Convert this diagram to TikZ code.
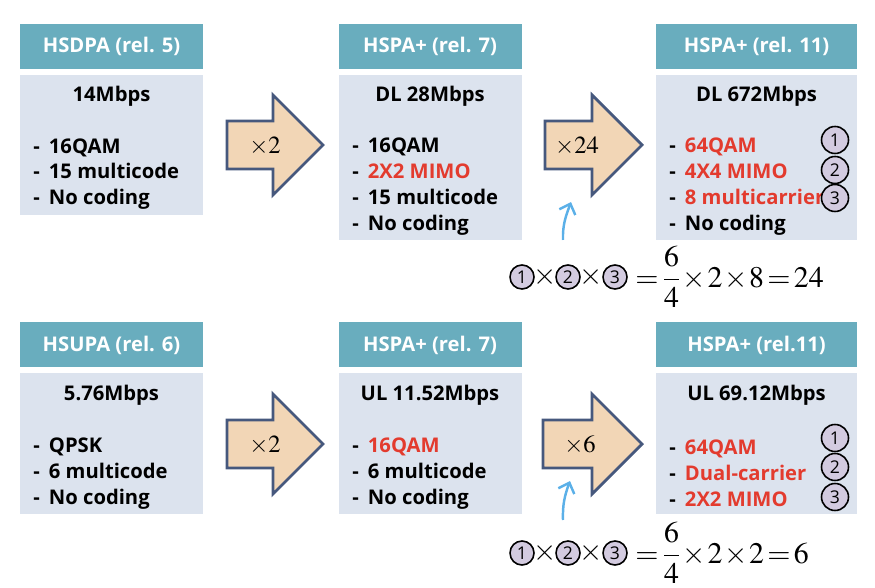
\documentclass[tikz,border=0pt]{standalone}
\usepackage{amsmath}
\usepackage{mathptmx}
\usepackage[no-math]{fontspec}
\setmainfont{Open Sans}
\newfontfamily\numfont{Open Sans}
\usepackage{tikz}
\usetikzlibrary{arrows.meta, positioning}
\definecolor{headteal}{HTML}{69ADBE}
\definecolor{bodygray}{HTML}{DCE3EE}
\definecolor{arrowfill}{HTML}{F2D6B6}
\definecolor{arrowedge}{HTML}{46587D}
\definecolor{hotred}{HTML}{E33B2E}
\definecolor{hintblue}{HTML}{5BB0E8}
\definecolor{circfill}{HTML}{D3CBE0}
\newcommand\tightmath{\thickmuskip=2mu\relax\medmuskip=1mu\relax}
\newcommand\listdash{-\hspace{0.45em}}

\begin{document}
\begin{tikzpicture}[
    every node/.style={font=\bfseries\fontsize{11.5}{14.7}\selectfont},
    headbox/.style={rectangle, fill=headteal, text=white, minimum width=3.66cm, minimum height=0.9cm, inner sep=0pt},
    bodybox/.style={rectangle, fill=bodygray, minimum width=3.66cm, inner sep=0pt},
    items/.style={align=left, anchor=west, inner sep=0pt},
    bigarrow/.style={draw=arrowedge, fill=arrowfill, line width=1.6pt, line join=miter},
    gain/.style={font=\fontsize{14}{16}\selectfont, inner sep=0pt},
    numcirc/.style={circle, draw=black, fill=circfill, line width=0.9pt, minimum size=0.54cm, inner sep=0pt, font=\numfont\fontsize{10}{10}\selectfont},
    hint/.style={line width=1.4pt, draw=hintblue, -{Straight Barb[length=1.8mm, width=3.4mm]}},
    formula/.style={font=\fontsize{17}{20}\selectfont\tightmath, inner sep=0pt}
]
\useasboundingbox (0,0) rectangle (17.5,-11.76);

% Downlink
\node[headbox] (hsdpa) at (2.23,-0.93) {HSDPA (rel. 5)};
\node[bodybox, minimum height=2.8cm] (dlbody1) at (2.23,-2.9) {};
\node (dlrate1) at (2.23,-1.93) {14Mbps};
\node[items] (dlitems1) at (0.66,-3.48) {\listdash 16QAM\\\listdash 15 multicode\\\listdash No coding};

\node[headbox] (hspadl7) at (8.6,-0.93) {HSPA+ (rel. 7)};
\node[bodybox, minimum height=3.3cm] (dlbody2) at (8.6,-3.15) {};
\node (dlrate2) at (8.6,-1.93) {DL 28Mbps};
\node[items] (dlitems2) at (7.04,-3.73) {\listdash 16QAM\\\listdash \textcolor{hotred}{2X2 MIMO}\\\listdash 15 multicode\\\listdash No coding};

\node[headbox, minimum width=4.02cm] (hspadl11) at (15.13,-0.93) {HSPA+ (rel. 11)};
\node[bodybox, minimum width=4.02cm, minimum height=3.3cm] (dlbody3) at (15.13,-3.15) {};
\node (dlrate3) at (15.13,-1.93) {DL 672Mbps};
\node[items] (dlitems3) at (13.38,-3.73) {\listdash \textcolor{hotred}{64QAM}\\\listdash \textcolor{hotred}{4X4 MIMO}\\\listdash \textcolor{hotred}{8 multicarrier}\\\listdash No coding};
\node[numcirc] (dlc1) at (16.7,-2.8) {1};
\node[numcirc] (dlc2) at (16.7,-3.4) {2};
\node[numcirc] (dlc3) at (16.7,-3.96) {3};

\draw[bigarrow] (4.54,-2.42) -- ++(0.92,0) -- ++(0,0.52) -- ++(1,-1) -- ++(-1,-1) -- ++(0,0.52) -- ++(-0.92,0) -- cycle;
\node[gain] (dlgain1) at (5.3,-2.92) {$\times2$};
\draw[bigarrow] (10.9,-2.42) -- ++(0.94,0) -- ++(0,0.52) -- ++(1,-1) -- ++(-1,-1) -- ++(0,0.52) -- ++(-0.94,0) -- cycle;
\node[gain] (dlgain2) at (11.54,-2.92) {$\times24$};

% Uplink
\node[headbox] (hsupa) at (2.23,-6.9) {HSUPA (rel. 6)};
\node[bodybox, minimum height=2.82cm] (ulbody1) at (2.23,-8.87) {};
\node (ulrate1) at (2.23,-7.91) {5.76Mbps};
\node[items] (ulitems1) at (0.66,-9.47) {\listdash QPSK\\\listdash 6 multicode\\\listdash No coding};

\node[headbox] (hspaul7) at (8.6,-6.9) {HSPA+ (rel. 7)};
\node[bodybox, minimum height=2.82cm] (ulbody2) at (8.6,-8.87) {};
\node (ulrate2) at (8.6,-7.91) {UL 11.52Mbps};
\node[items] (ulitems2) at (7.04,-9.47) {\listdash \textcolor{hotred}{16QAM}\\\listdash 6 multicode\\\listdash No coding};

\node[headbox, minimum width=4.02cm] (hspaul11) at (15.13,-6.9) {HSPA+ (rel.11)};
\node[bodybox, minimum width=4.02cm, minimum height=2.82cm] (ulbody3) at (15.13,-8.87) {};
\node (ulrate3) at (15.13,-7.91) {UL 69.12Mbps};
\node[items] (ulitems3) at (13.38,-9.47) {\listdash \textcolor{hotred}{64QAM}\\\listdash \textcolor{hotred}{Dual-carrier}\\\listdash \textcolor{hotred}{2X2 MIMO}};
\node[numcirc] (ulc1) at (16.7,-8.76) {1};
\node[numcirc] (ulc2) at (16.7,-9.34) {2};
\node[numcirc] (ulc3) at (16.7,-9.94) {3};

\draw[bigarrow] (4.54,-8.4) -- ++(0.92,0) -- ++(0,0.52) -- ++(1,-1) -- ++(-1,-1) -- ++(0,0.52) -- ++(-0.92,0) -- cycle;
\node[gain] (ulgain1) at (5.3,-8.9) {$\times2$};
\draw[bigarrow] (10.86,-8.4) -- ++(0.98,0) -- ++(0,0.52) -- ++(1,-1) -- ++(-1,-1) -- ++(0,0.52) -- ++(-0.98,0) -- cycle;
\node[gain] (ulgain2) at (11.6,-8.9) {$\times6$};

% where the gains come from
\coordinate (dlhintfoot) at (11.26,-4.8);
\coordinate (dlhinttip) at (11.42,-4.04);
\draw[hint] (dlhintfoot) to[out=92, in=250] (dlhinttip);
\node[numcirc, minimum size=0.48cm] (dlf1) at (10.44,-5.54) {1};
\node[formula] (dlx1) at (10.9,-5.54) {$\times$};
\node[numcirc, minimum size=0.48cm] (dlf2) at (11.36,-5.54) {2};
\node[formula] (dlx2) at (11.82,-5.54) {$\times$};
\node[numcirc, minimum size=0.48cm] (dlf3) at (12.3,-5.54) {3};
\node[formula, anchor=west] (dleq) at (12.7,-5.54) {$=\dfrac{6}{4}\times2\times8=24$};

\coordinate (ulhintfoot) at (11.26,-10.4);
\coordinate (ulhinttip) at (11.4,-9.62);
\draw[hint] (ulhintfoot) to[out=92, in=250] (ulhinttip);
\node[numcirc, minimum size=0.48cm] (ulf1) at (10.44,-11.06) {1};
\node[formula] (ulx1) at (10.9,-11.06) {$\times$};
\node[numcirc, minimum size=0.48cm] (ulf2) at (11.36,-11.06) {2};
\node[formula] (ulx2) at (11.82,-11.06) {$\times$};
\node[numcirc, minimum size=0.48cm] (ulf3) at (12.3,-11.06) {3};
\node[formula, anchor=west] (uleq) at (12.7,-11.06) {$=\dfrac{6}{4}\times2\times2=6$};

\end{tikzpicture}
\end{document}
